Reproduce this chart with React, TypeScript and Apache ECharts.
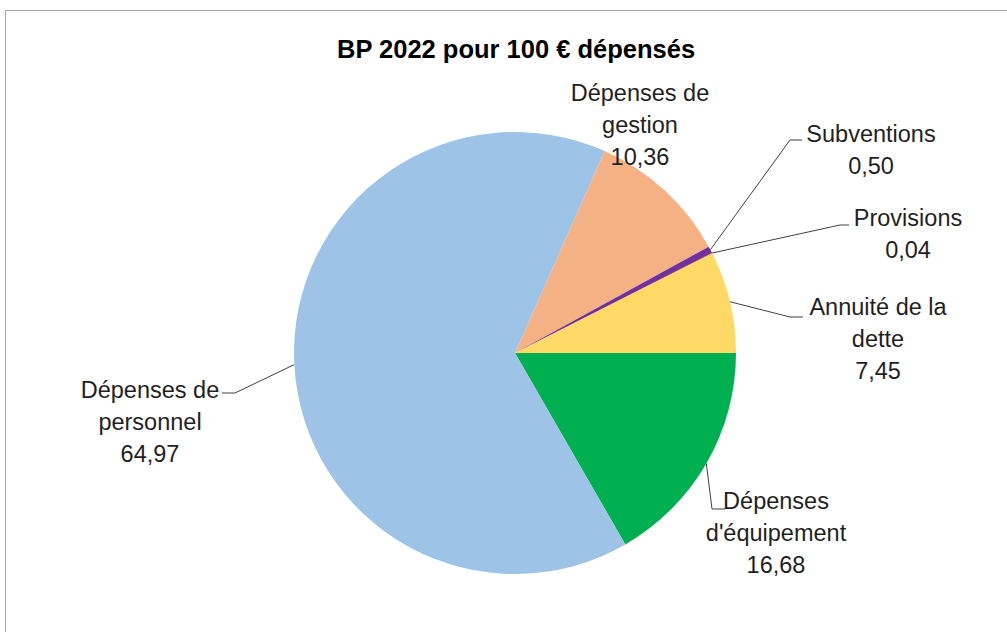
import React, { useEffect, useRef } from "react";
import * as echarts from "echarts";

// Data (clockwise from 3 o'clock)
const categories = [
  "Dépenses\nd'équipement",
  "Dépenses de\npersonnel",
  "Dépenses de\ngestion",
  "Subventions",
  "Provisions",
  "Annuité de la\ndette",
];
const values = [16.68, 64.97, 10.36, 0.5, 0.04, 7.45];
const colors = ["#00B050", "#9DC3E6", "#F4B183", "#7030A0", "#C00000", "#FFD966"];
const title = "BP 2022 pour 100 € dépensés";

// Layout of labels (block centre) and leader-line elbow/end points
const labelPos: [number, number][] = [
  [776, 533],
  [150, 422],
  [640, 125],
  [871, 150],
  [908, 234],
  [878, 339],
];
const leader: ([number, number][] | null)[] = [
  [[712, 509], [725, 509]],
  [[235, 393], [222, 393]],
  null,
  [[790, 140], [802, 140]],
  [[840, 225], [849, 225]],
  [[790, 317], [803, 317]],
];

const CX = 515;
const CY = 353;
const R = 221;

export default function App() {
  const ref = useRef<HTMLDivElement>(null);
  useEffect(() => {
    if (!ref.current) return;
    const chart = echarts.init(ref.current, undefined, { renderer: "svg" });
    const total = values.reduce((a, b) => a + b, 0);
    const edgePoint = (i: number): [number, number] => {
      let before = 0;
      for (let k = 0; k < i; k++) before += values[k];
      const mid = ((before + values[i] / 2) / total) * Math.PI * 2; // clockwise from 3 o'clock
      return [CX + R * Math.cos(mid), CY + R * Math.sin(mid)];
    };
    const font = "'Liberation Sans', Arial, sans-serif";
    chart.setOption({
      animation: false,
      backgroundColor: "#ffffff",
      title: {
        text: title,
        left: 332,
        top: 31,
        textStyle: { fontFamily: font, fontSize: 25.5, fontWeight: "bold", color: "#000000" },
      },
      graphic: [
        {
          type: "rect",
          z: -10,
          shape: { x: 5.5, y: 10.5, width: 1100, height: 700 },
          style: { fill: "none", stroke: "#a6a6a6", lineWidth: 1 },
          silent: true,
        },
      ],
      series: [
        {
          type: "pie",
          center: [CX, CY],
          radius: R,
          startAngle: 0,
          clockwise: true,
          avoidLabelOverlap: false,
          silent: true,
          emphasis: { disabled: true },
          itemStyle: { borderWidth: 0 },
          label: {
            show: true,
            position: "outside",
            fontFamily: font,
            fontSize: 23.5,
            lineHeight: 32,
            color: "#1f1f1f",
            align: "center",
            formatter: (p: any) => `${p.name}\n${Number(p.value).toFixed(2).replace(".", ",")}`,
          },
          labelLine: {
            show: true,
            length: 10,
            length2: 10,
            smooth: false,
            lineStyle: { color: "#404040", width: 1 },
          },
          labelLayout: (params: any) => {
            const i = params.dataIndex;
            const [x, y] = labelPos[i];
            const res: any = { x, y, align: "center", verticalAlign: "middle" };
            const l = leader[i];
            if (l) {
              const start =
                params.labelLinePoints && params.labelLinePoints[0]
                  ? params.labelLinePoints[0]
                  : edgePoint(i);
              res.labelLinePoints = [start, l[0], l[1]];
            }
            return res;
          },
          data: categories.map((name, i) => ({
            name,
            value: values[i],
            itemStyle: { color: colors[i] },
            labelLine: { show: leader[i] !== null },
          })),
        },
      ],
    });
    return () => chart.dispose();
  }, []);
  return (
    <div
      ref={ref}
      style={{ position: "fixed", left: 0, top: 0, width: 1007, height: 632 }}
    />
  );
}
